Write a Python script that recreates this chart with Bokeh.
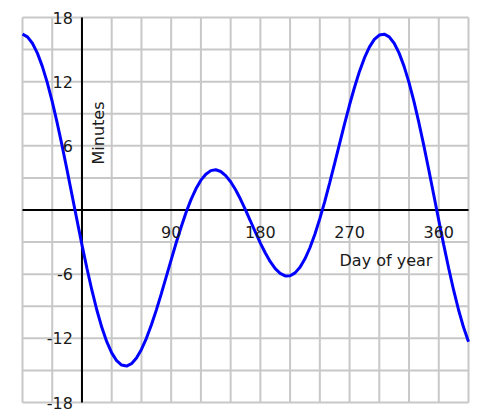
from bokeh.plotting import figure
from bokeh.models import Range1d, Label
from bokeh.embed import file_html
from bokeh.resources import INLINE

# Equation of time (minutes), every 5 days
days = list(range(-60, 391, 5))
minutes = [16.44, 16.19, 15.59, 14.67, 13.43, 11.91, 10.13, 8.14, 5.99, 3.72, 1.38, -0.96,
           -3.26, -5.45, -7.50, -9.35, -10.97, -12.31, -13.36, -14.09, -14.50, -14.59,
           -14.37, -13.84, -13.04, -12.00, -10.76, -9.36, -7.84, -6.26, -4.66, -3.09,
           -1.61, -0.24, 0.97, 1.98, 2.79, 3.35, 3.68, 3.76, 3.60, 3.22, 2.64, 1.89,
           1.00, 0.01, -1.03, -2.08, -3.09, -4.02, -4.83, -5.48, -5.93, -6.16, -6.15,
           -5.88, -5.35, -4.56, -3.53, -2.27, -0.81, 0.81, 2.56, 4.38, 6.24, 8.08, 9.84,
           11.48, 12.96, 14.22, 15.23, 15.95, 16.36, 16.44, 16.19, 15.59, 14.67, 13.43,
           11.91, 10.13, 8.14, 5.99, 3.72, 1.38, -0.96, -3.26, -5.45, -7.50, -9.35,
           -10.97, -12.31]

x_ticks = [90, 180, 270, 360]
x_tick_labels = ["90", "180", "270", "360"]
y_ticks = [18, 12, 6, -6, -12, -18]
y_tick_labels = ["18", "12", "6", "-6", "-12", "-18"]

X_MIN, X_MAX, X_STEP = -60, 390, 30
Y_MIN, Y_MAX, Y_STEP = -18, 18, 3
grid_x = list(range(X_MIN, X_MAX + 1, X_STEP))
grid_y = list(range(Y_MIN, Y_MAX + 1, Y_STEP))

FONT = "DejaVu Sans"
FS = "16px"
TC = "#1a1a1a"

# layout: figure 482x412, grid box from (22, 17) to (468, 402) inside it
W, H = 482, 412
L, R, T, B = 22, 14, 17, 10
sx = (W - L - R) / (X_MAX - X_MIN)
sy = (H - T - B) / (Y_MAX - Y_MIN)

p = figure(width=W, height=H, output_backend="svg", toolbar_location=None,
           x_range=Range1d(X_MIN - L / sx, X_MAX + R / sx),
           y_range=Range1d(Y_MIN - B / sy, Y_MAX + T / sy),
           min_border=0, min_border_left=0, min_border_right=0,
           min_border_top=0, min_border_bottom=0)
p.xaxis.visible = False
p.yaxis.visible = False
p.xgrid.visible = False
p.ygrid.visible = False
p.outline_line_color = None
p.background_fill_color = "white"
p.border_fill_color = "white"

GC = "#c8c8c8"
p.segment(x0=grid_x, y0=[Y_MIN] * len(grid_x), x1=grid_x, y1=[Y_MAX] * len(grid_x),
          line_color=GC, line_width=2)
p.segment(x0=[X_MIN] * len(grid_y), y0=grid_y, x1=[X_MAX] * len(grid_y), y1=grid_y,
          line_color=GC, line_width=2)
p.segment(x0=[X_MIN, 0], y0=[0, Y_MIN], x1=[X_MAX, 0], y1=[0, Y_MAX],
          line_color="black", line_width=2)

p.line(days, minutes, line_color="#0000ff", line_width=3)

for xv, t in zip(x_ticks, x_tick_labels):
    p.add_layout(Label(x=xv, y=0, text=t, text_align="center", text_baseline="middle",
                       y_offset=-22, text_font=FONT, text_font_size=FS, text_color=TC))
for yv, t in zip(y_ticks, y_tick_labels):
    p.add_layout(Label(x=0, y=yv, text=t, text_align="right", text_baseline="middle",
                       x_offset=-9, text_font=FONT, text_font_size=FS, text_color=TC))

p.add_layout(Label(x=0, y=0, text="Day of year", text_align="center",
                   text_baseline="middle", x_offset=304, y_offset=-50, text_font=FONT,
                   text_font_size=FS, text_color=TC))
p.add_layout(Label(x=0, y=0, text="Minutes", text_align="center",
                   text_baseline="middle", angle=1.5708, x_offset=17, y_offset=77,
                   text_font=FONT, text_font_size=FS, text_color=TC))

open("out.html", "w").write(file_html(p, INLINE))
